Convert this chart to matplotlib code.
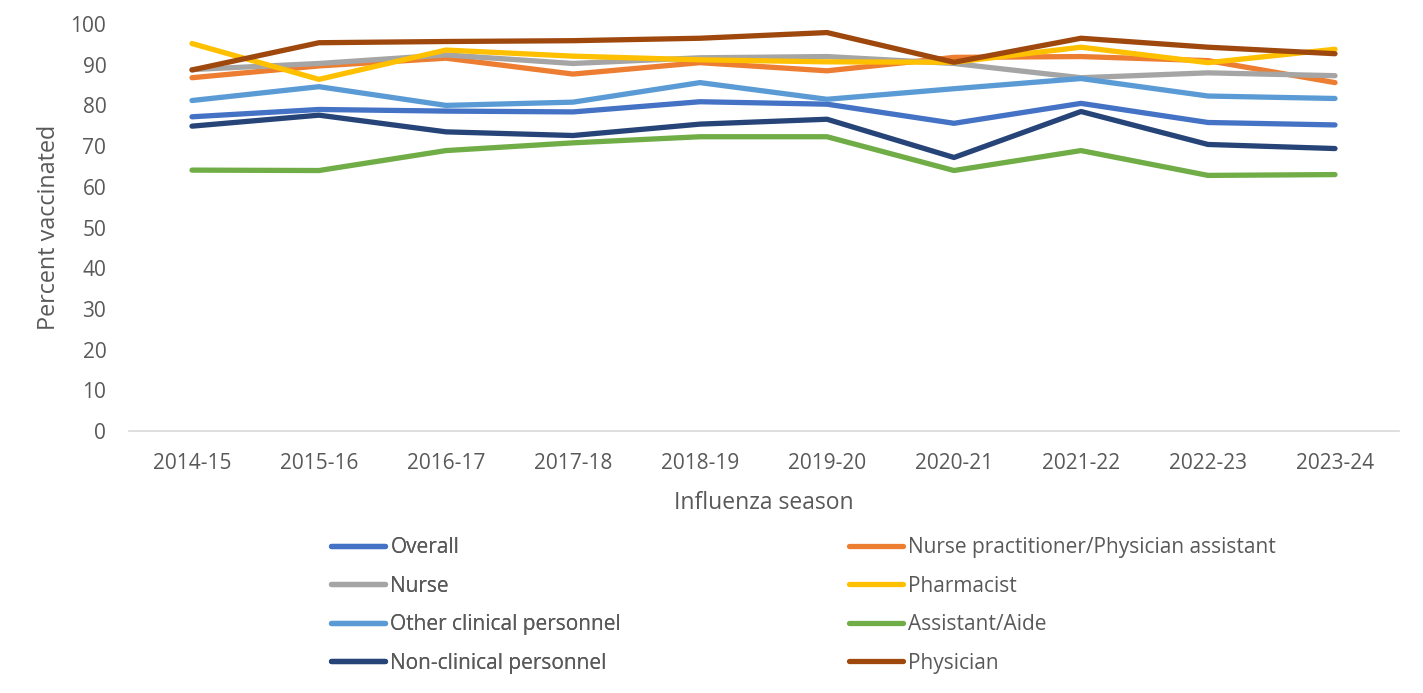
import matplotlib
matplotlib.use("Agg")
import matplotlib.pyplot as plt
from matplotlib.lines import Line2D

seasons = ["2014-15", "2015-16", "2016-17", "2017-18", "2018-19",
           "2019-20", "2020-21", "2021-22", "2022-23", "2023-24"]

overall        = [77.2, 79.0, 78.6, 78.4, 80.9, 80.3, 75.6, 80.5, 75.8, 75.2]
np_pa          = [86.8, 89.7, 91.6, 87.7, 90.5, 88.5, 91.8, 92.0, 91.0, 85.6]
nurse          = [88.8, 90.3, 92.4, 90.3, 91.7, 92.0, 90.3, 86.8, 88.0, 87.3]
pharmacist     = [95.2, 86.4, 93.6, 92.1, 91.2, 90.7, 90.6, 94.3, 90.5, 93.8]
other_clinical = [81.2, 84.6, 80.0, 80.8, 85.6, 81.5, 84.1, 86.6, 82.3, 81.7]
assistant      = [64.1, 64.0, 68.9, 70.8, 72.3, 72.3, 64.0, 68.9, 62.8, 63.0]
non_clinical   = [74.9, 77.6, 73.5, 72.6, 75.4, 76.6, 67.2, 78.5, 70.4, 69.4]
physician      = [88.7, 95.4, 95.7, 95.9, 96.5, 97.9, 90.6, 96.5, 94.3, 92.7]

series = [
    ("Overall", overall, "#4472C4"),
    ("Nurse practitioner/Physician assistant", np_pa, "#ED7D31"),
    ("Nurse", nurse, "#A5A5A5"),
    ("Pharmacist", pharmacist, "#FFC000"),
    ("Other clinical personnel", other_clinical, "#5B9BD5"),
    ("Assistant/Aide", assistant, "#70AD47"),
    ("Non-clinical personnel", non_clinical, "#264478"),
    ("Physician", physician, "#9E480E"),
]

plt.rcParams['font.family'] = ['Open Sans', 'DejaVu Sans']
TXT = "#595959"

W, H = 1423, 693
fig = plt.figure(figsize=(W / 100, H / 100), dpi=100)
ax = fig.add_axes([128.5 / W, 1 - 431 / H, (1398.5 - 128.5) / W, (431 - 24) / H])

x = list(range(len(seasons)))
handles = []
for name, vals, col in series:
    ln, = ax.plot(x, vals, color=col, lw=3.8, solid_capstyle='round',
                  solid_joinstyle='round', label=name)
    handles.append(ln)

ax.set_xlim(-0.5, len(seasons) - 0.5)
ax.set_ylim(0, 100)
ax.set_yticks(range(0, 101, 10))
ax.set_xticks(x)
ax.set_xticklabels(seasons)
for s in ["top", "right", "left"]:
    ax.spines[s].set_visible(False)
ax.spines["bottom"].set_color("#D9D9D9")
ax.spines["bottom"].set_linewidth(1.2)
ax.tick_params(axis="both", length=0, labelsize=15, labelcolor=TXT)
ax.tick_params(axis="y", pad=16)
ax.tick_params(axis="x", pad=15.5)
ax.set_xlabel("Influenza season", fontsize=16.5, color=TXT, labelpad=12.5)
ax.set_ylabel("Percent vaccinated", fontsize=16.8, color=TXT, labelpad=7)

def mk_leg(hs, xpx):
    lg = fig.legend(handles=[Line2D([], [], color=h.get_color(), lw=3.8,
                                    solid_capstyle='round') for h in hs],
                    labels=[h.get_label() for h in hs],
                    loc="upper left", bbox_to_anchor=(xpx / W, 1 - 537 / H),
                    frameon=False, fontsize=15, labelcolor=TXT,
                    handlelength=2.6, handletextpad=0.25, labelspacing=0.84,
                    borderpad=0, borderaxespad=0)
    return lg

leg1 = mk_leg([handles[0], handles[2], handles[4], handles[6]], 331)
fig.add_artist(leg1)
leg2 = mk_leg([handles[1], handles[3], handles[5], handles[7]], 849)

fig.savefig("out.png", dpi=100)
